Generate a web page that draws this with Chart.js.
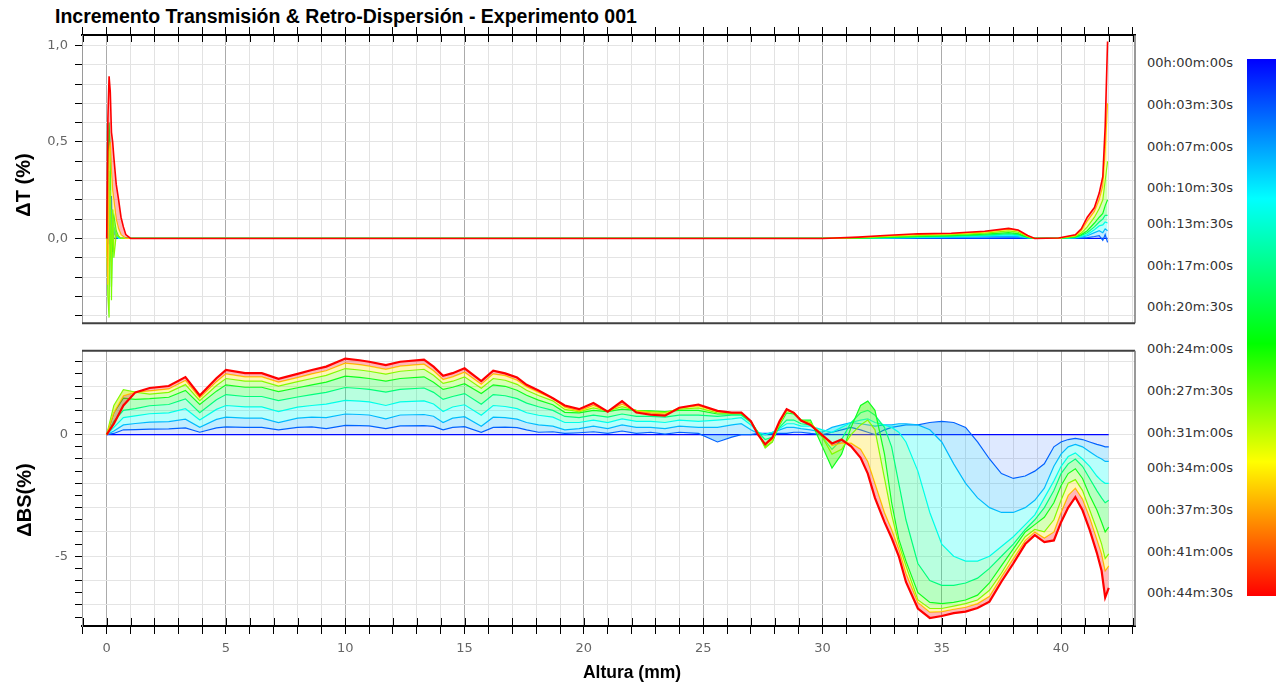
<!DOCTYPE html>
<html lang="es">
<head>
<meta charset="utf-8">
<title>Incremento Transmisión &amp; Retro-Dispersión</title>
<script src="https://cdn.jsdelivr.net/npm/chart.js@4.4.1/dist/chart.umd.min.js"></script>
<style>
html,body{margin:0;padding:0;background:#fff;}
body{width:1288px;height:690px;position:relative;overflow:hidden;}
canvas{position:absolute;left:0;}
#cTop{top:0;}
#cBot{top:336px;}
.txt{position:absolute;white-space:nowrap;color:#000;font-family:"Liberation Sans",Arial,sans-serif;font-weight:bold;}
#title{left:55px;top:6px;font-size:19.5px;line-height:20px;}
.ytitle{transform:translate(-50%,-50%) rotate(-90deg);font-size:20px;line-height:24px;}
#xtitle{transform:translate(-50%,-50%);font-size:17.5px;line-height:20px;left:632px;top:672px;}
#cbar{position:absolute;left:1247px;top:59px;width:29px;height:537px;}
.cbl{position:absolute;left:1147px;font:13px/16px "DejaVu Sans",Verdana,sans-serif;color:#333;white-space:nowrap;}
</style>
</head>
<body>
<div id="title" class="txt">Incremento Transmisión &amp; Retro-Dispersión - Experimento 001</div>
<canvas id="cTop" width="1140" height="338"></canvas>
<canvas id="cBot" width="1140" height="354"></canvas>
<div class="txt ytitle" style="left:23px;top:185px">ΔT (%)</div>
<div class="txt ytitle" style="left:24px;top:500px">ΔBS(%)</div>
<div id="xtitle" class="txt">Altura (mm)</div>
<div id="cbar"></div>
<div id="cblabels"></div>
<script>
// ---------- time / colour scale ----------
const TIMES = [0, 4, 8, 12, 17, 22, 28, 35, 44.5];          // minutes of each drawn scan
const T_END = 44.5;
const TIME_LABELS = ["00h:00m:00s","00h:03m:30s","00h:07m:00s","00h:10m:30s","00h:13m:30s","00h:17m:00s","00h:20m:30s","00h:24m:00s","00h:27m:30s","00h:31m:00s","00h:34m:00s","00h:37m:30s","00h:41m:00s","00h:44m:30s"];
const TIME_LABEL_MIN = [0, 3.5, 7, 10.5, 13.5, 17, 20.5, 24, 27.5, 31, 34, 37.5, 41, 44.5];

// ---------- axis ticks ----------
const X_TICKS = [-1,0,1,2,3,4,5,6,7,8,9,10,11,12,13,14,15,16,17,18,19,20,21,22,23,24,25,26,27,28,29,30,31,32,33,34,35,36,37,38,39,40,41,42,43];
const X_LABELS = [0,5,10,15,20,25,30,35,40];
const DT_TICKS = [-0.4,-0.3,-0.2,-0.1,0,0.1,0.2,0.3,0.4,0.5,0.6,0.7,0.8,0.9,1.0];
const DT_LABELS = [0, 0.5, 1.0];
const BS_TICKS = [-7.5,-7,-6.5,-6,-5.5,-5,-4.5,-4,-3.5,-3,-2.5,-2,-1.5,-1,-0.5,0,0.5,1,1.5,2,2.5,3];
const BS_LABELS = [-5, 0];

// ---------- ΔT (%) scans ----------
const X_DT_T00 = [0, 41.95];
const DT_T00 = [0, 0];
const X_DT = [0,0.05,0.1,0.15,0.2,0.25,0.3,0.4,0.5,0.6,0.7,0.8,1.0, 30.0,31.5,32.6,34.0,35.4,36.8,37.8,38.2,38.6,38.9,39.9,40.6,40.85,41.1,41.4,41.6,41.75,41.85,41.95];
const DT_T04 = [0,0.05,-0.03,0.12,0.22,-0.07,0.04,0.01,0,0,0,0,0, 0,0,0,0.001,0.001,0.002,0.003,0.003,0.001,0,0,0.001,0.002,0.004,0.01,0.015,-0.01,0.02,-0.02];
const DT_T08 = [0,0.1,0.06,-0.05,0.15,0.08,0.03,0.01,0,0,0,0,0, 0,0,0.002,0.004,0.006,0.009,0.012,0.01,0.003,0,0,0.003,0.007,0.014,0.03,0.04,0.03,0.05,0.04];
const DT_T12 = [0,0.12,0.2,0.05,-0.08,0.1,0.05,0.02,0,0,0,0,0, 0,0.001,0.003,0.006,0.009,0.013,0.018,0.015,0.004,0,0,0.004,0.01,0.02,0.045,0.065,0.07,0.085,0.08];
const DT_T17 = [0,0.2,0.35,0.1,-0.12,0.15,0.06,0.02,0.01,0,0,0,0, 0,0.001,0.004,0.008,0.012,0.017,0.024,0.02,0.005,0,0,0.006,0.015,0.03,0.06,0.085,0.1,0.12,0.12];
const DT_T22 = [0,0.3,0.6,0.45,-0.25,0.1,0.12,0.04,0.01,0,0,0,0, 0,0.002,0.006,0.011,0.015,0.022,0.03,0.025,0.006,0,0,0.008,0.02,0.04,0.08,0.11,0.13,0.17,0.2];
const DT_T28 = [0,-0.3,-0.41,0.25,-0.32,0.15,-0.1,0.02,0.01,0,0,0,0, 0,0.003,0.009,0.015,0.02,0.028,0.039,0.033,0.009,0,0.001,0.011,0.028,0.06,0.11,0.155,0.2,0.3,0.4];
const DT_T35 = [0,-0.24,0.45,0.5,0.35,0.25,0.2,0.1,0.05,0.02,0.01,0,0, 0,0.005,0.012,0.02,0.024,0.033,0.047,0.04,0.012,0,0.002,0.015,0.04,0.09,0.14,0.2,0.27,0.45,0.7];
const DT_T44 = [0,0.62,0.84,0.76,0.55,0.5,0.42,0.28,0.2,0.11,0.06,0.02,0, 0,0.007,0.015,0.024,0.027,0.037,0.052,0.044,0.015,0,0.002,0.019,0.05,0.11,0.16,0.235,0.32,0.58,1.02];

// ---------- ΔBS (%) scans ----------
const X_BS_T00 = [0, 42];
const BS_T00 = [0, 0];
const X_BS = [0,0.3,0.7,1.2,1.8,2.6,3.3,3.9,4.6,5.0,5.8,6.5,7.2,8.0,8.6,9.2,10.0,10.6,11.0,11.7,12.3,13.3,13.7,14.1,14.5,15.0,15.7,16.2,16.7,17.2,17.6,18.1,18.7,19.2,19.8,20.4,21.0,21.6,22.2,22.8,23.4,24.0,24.8,
  25.6,26.2,26.6,27.0,27.3,27.6,27.9,28.2,28.5,28.8,29.1,29.5,30.0,30.4,30.8,31.2,31.6,31.9,32.2,32.6,32.9,33.2,33.5,34.0,34.5,35.0,35.5,36.0,36.5,37.0,37.5,38.0,38.5,38.9,39.3,39.7,40.0,40.3,40.6,40.9,41.2,41.5,41.7,41.85,42.0];
const BS_T04 = [0,0.05,0.2,0.21,0.23,0.24,0.28,0.1,0.28,0.32,0.3,0.3,0.2,0.3,0.32,0.25,0.38,0.37,0.36,0.25,0.36,0.37,0.34,0.2,0.3,0.33,0.1,0.3,0.31,0.29,0.2,0.1,0.12,0.05,0.08,0.12,0.05,0.15,0.05,0.1,0.02,0.1,0.05,
  -0.3,-0.1,0,0,0.05,0.05,0.05,0.05,0.05,0.1,0.1,0.05,0,0.1,0.2,0.3,0.2,0.1,0,0.2,0.3,0.35,0.4,0.4,0.5,0.55,0.5,0.3,-0.3,-1.0,-1.6,-1.8,-1.7,-1.5,-1.2,-0.5,-0.3,-0.2,-0.15,-0.2,-0.3,-0.4,-0.45,-0.5,-0.5];
const BS_T08 = [0,0.15,0.4,0.46,0.52,0.54,0.64,0.3,0.63,0.72,0.68,0.68,0.5,0.68,0.72,0.7,0.85,0.83,0.81,0.65,0.81,0.83,0.76,0.5,0.68,0.74,0.35,0.72,0.7,0.64,0.5,0.4,0.35,0.2,0.25,0.35,0.25,0.4,0.3,0.3,0.25,0.35,0.3,
  0.3,0.4,0.45,0.2,0.05,0,0.1,0.2,0.3,0.3,0.25,0.2,0.1,0.3,0.4,0.5,0.45,0.4,0.35,0.4,0.4,0.45,0.45,0.4,0.2,-0.3,-1.2,-2.0,-2.6,-3.0,-3.2,-3.2,-3.0,-2.7,-2.2,-1.3,-0.8,-0.5,-0.4,-0.5,-0.7,-0.9,-1.0,-1.1,-1.1];
const BS_T12 = [0,0.3,0.7,0.77,0.86,0.9,1.07,0.6,1.04,1.2,1.14,1.14,0.95,1.13,1.2,1.26,1.41,1.38,1.35,1.2,1.35,1.39,1.26,0.95,1.14,1.23,0.8,1.2,1.16,1.07,0.9,0.8,0.72,0.5,0.5,0.6,0.5,0.65,0.55,0.55,0.5,0.6,0.55,
  0.6,0.65,0.7,0.4,0.1,0,0.1,0.25,0.45,0.45,0.35,0.35,0.2,0.1,0.3,0.5,0.6,0.65,0.5,0.4,0.3,0.1,-0.3,-1.5,-3.2,-4.5,-5.0,-5.2,-5.2,-5.0,-4.6,-4.2,-3.7,-3.3,-2.6,-1.9,-1.3,-0.9,-0.75,-1.0,-1.3,-1.7,-1.9,-2.0,-2.0];
const BS_T17 = [0,0.55,1.0,1.07,1.19,1.24,1.47,0.9,1.44,1.65,1.57,1.57,1.4,1.55,1.65,1.74,1.94,1.9,1.86,1.75,1.86,1.92,1.74,1.45,1.57,1.69,1.25,1.65,1.6,1.48,1.3,1.15,1.0,0.75,0.7,0.8,0.72,0.85,0.75,0.75,0.72,0.8,0.8,
  0.75,0.8,0.8,0.5,0.1,-0.2,-0.1,0.3,0.6,0.6,0.45,0.4,-0.1,-0.6,-0.2,0.5,0.9,1.0,0.8,0.3,-0.5,-2.0,-3.5,-5.3,-6.0,-6.2,-6.2,-6.1,-5.9,-5.5,-5.0,-4.5,-3.9,-3.5,-3.0,-2.3,-1.6,-1.2,-1.0,-1.3,-1.8,-2.3,-2.6,-2.8,-2.7];
const BS_T22 = [0,0.9,1.5,1.45,1.48,1.54,1.82,1.24,1.79,2.05,1.95,1.95,1.77,1.93,2.05,2.16,2.41,2.36,2.31,2.2,2.31,2.38,2.16,1.86,1.95,2.1,1.69,2.05,1.99,1.83,1.62,1.42,1.23,0.92,0.9,1.0,0.95,1.05,1.0,0.98,0.95,1.0,1.0,
  0.85,0.85,0.85,0.55,0.1,-0.5,-0.3,0.4,0.9,0.85,0.6,0.6,-0.5,-1.37,-0.8,0.3,1.2,1.38,1.0,-0.8,-2.8,-4.3,-5.2,-6.5,-6.9,-6.95,-6.9,-6.8,-6.6,-6.1,-5.4,-4.7,-4.0,-3.7,-3.4,-2.8,-2.1,-1.6,-1.4,-1.8,-2.5,-3.1,-3.6,-4.0,-3.8];
const BS_T28 = [0,1.2,1.85,1.75,1.67,1.74,2.06,1.4,2.02,2.31,2.2,2.2,2.0,2.18,2.31,2.44,2.72,2.66,2.61,2.49,2.61,2.69,2.44,2.11,2.2,2.38,1.91,2.31,2.24,2.07,1.83,1.61,1.39,1.04,0.95,1.1,0.98,1.15,1.0,0.95,0.92,1.05,1.1,
  0.9,0.88,0.88,0.55,0.05,-0.55,-0.3,0.5,1.0,0.9,0.6,0.5,-0.1,-0.8,-0.6,0,0.4,0.6,0.2,-1.8,-3.3,-4.5,-5.4,-6.8,-7.15,-7.15,-7.05,-6.95,-6.8,-6.4,-5.7,-4.9,-4.2,-3.9,-4.0,-3.5,-2.7,-2.0,-1.85,-2.3,-3.1,-3.9,-4.5,-5.1,-4.9];
const BS_T35 = [0,0.9,1.6,1.75,1.8,1.88,2.23,1.51,2.18,2.5,2.38,2.38,2.16,2.35,2.5,2.63,2.94,2.88,2.82,2.69,2.82,2.9,2.63,2.27,2.38,2.57,2.07,2.5,2.43,2.24,1.97,1.74,1.5,1.13,0.97,1.2,0.95,1.25,0.97,0.9,0.85,1.1,1.18,
  0.95,0.9,0.9,0.55,0.05,-0.42,-0.2,0.45,1.0,0.92,0.6,0.45,0,-0.45,-0.35,-0.35,-0.6,-1.1,-2.0,-3.2,-3.9,-4.7,-5.7,-6.9,-7.3,-7.28,-7.18,-7.1,-6.95,-6.65,-5.85,-5.1,-4.35,-4.0,-4.25,-4.0,-3.2,-2.5,-2.2,-2.65,-3.4,-4.3,-4.9,-5.6,-5.4];
const BS_T44 = [0,0.45,1.2,1.74,1.92,2.0,2.37,1.61,2.32,2.66,2.53,2.53,2.3,2.5,2.66,2.8,3.13,3.06,3.0,2.86,3.0,3.09,2.8,2.42,2.53,2.73,2.2,2.63,2.52,2.35,2.05,1.82,1.5,1.2,1.05,1.3,0.95,1.38,0.91,0.82,0.78,1.11,1.24,
  0.98,0.91,0.91,0.55,0,-0.4,-0.12,0.55,1.05,0.9,0.58,0.4,-0.03,-0.36,-0.2,-0.48,-0.95,-1.6,-2.6,-3.6,-4.25,-5.0,-6.06,-7.15,-7.54,-7.46,-7.34,-7.28,-7.13,-6.87,-6.05,-5.3,-4.5,-4.13,-4.42,-4.35,-3.6,-3.0,-2.57,-3.11,-3.92,-4.86,-5.6,-6.7,-6.3];

const DT_SERIES = [[X_DT_T00,DT_T00],[X_DT,DT_T04],[X_DT,DT_T08],[X_DT,DT_T12],[X_DT,DT_T17],[X_DT,DT_T22],[X_DT,DT_T28],[X_DT,DT_T35],[X_DT,DT_T44]];
const BS_SERIES = [[X_BS_T00,BS_T00],[X_BS,BS_T04],[X_BS,BS_T08],[X_BS,BS_T12],[X_BS,BS_T17],[X_BS,BS_T22],[X_BS,BS_T28],[X_BS,BS_T35],[X_BS,BS_T44]];

// ---------- styling ----------
const X_MIN = -1.035, X_MAX = 43.1;
const CSTOPS = [[0,[0,0,255]],[0.26,[0,255,255]],[0.53,[0,255,0]],[0.75,[255,255,0]],[1,[255,0,0]]];
const FILL_ALPHA = [0, 0.13, 0.24, 0.28, 0.28, 0.28, 0.28, 0.28, 0.28];   // band tint per scan
const FONT_TICK = {family:'"DejaVu Sans", Verdana, sans-serif', size:13};
const TICK_COLOR = '#666';

function timeColor(t, a) {
  const f = Math.min(1, Math.max(0, t / T_END));
  for (let i = 1; i < CSTOPS.length; i++) {
    if (f <= CSTOPS[i][0] + 1e-9) {
      const [f0, c0] = CSTOPS[i-1], [f1, c1] = CSTOPS[i];
      const k = (f - f0) / (f1 - f0);
      const c = c0.map((v, j) => Math.round(v + (c1[j] - v) * k));
      return `rgba(${c[0]},${c[1]},${c[2]},${a})`;
    }
  }
  return `rgba(255,0,0,${a})`;
}
const has = (arr, v) => arr.some(a => Math.abs(a - v) < 1e-6);

function buildSets(series, lastWidth) {
  const last = series.length - 1;
  return series.map(([xs, ys], i) => ({
    data: xs.map((x, j) => ({x: x, y: ys[j]})),
    borderColor: timeColor(TIMES[i], 1),
    backgroundColor: timeColor(TIMES[i], FILL_ALPHA[i]),
    borderWidth: i === last ? lastWidth : 1.2,
    pointRadius: 0,
    tension: 0,
    fill: i === 0 ? false : '-1',
    order: series.length - i
  }));
}

const frameLines = {
  id: 'frameLines',
  afterDatasetsDraw(chart, args, o) {
    const {ctx, chartArea: a} = chart;
    ctx.save();
    const seg = (s, x1, y1, x2, y2) => {
      if (!s) return;
      ctx.strokeStyle = s.color; ctx.lineWidth = s.width;
      ctx.beginPath(); ctx.moveTo(x1, y1); ctx.lineTo(x2, y2); ctx.stroke();
    };
    seg(o.top, a.left, a.top, a.right, a.top);
    seg(o.right, a.right, a.top, a.right, a.bottom);
    seg(o.bottom, a.left, a.bottom, a.right, a.bottom);
    if (o.inTicks) {
      const sx = chart.scales.x;
      const y0 = o.inTicks.edge === 'top' ? a.top : a.bottom;
      const dir = o.inTicks.edge === 'top' ? 1 : -1;
      ctx.strokeStyle = '#000'; ctx.lineWidth = 1;
      ctx.beginPath();
      sx.ticks.forEach(tk => {
        const px = Math.round(sx.getPixelForValue(tk.value)) + 0.5;
        ctx.moveTo(px, y0); ctx.lineTo(px, y0 + dir * o.inTicks.len);
      });
      ctx.stroke();
    }
    ctx.restore();
  }
};

const xGridColor = c => (c.tick && Math.abs(c.tick.value % 5) < 1e-6) ? '#ababab' : '#e2e2e2';

function xScale(position, height, showLabels) {
  return {
    type: 'linear', position: position, min: X_MIN, max: X_MAX,
    afterBuildTicks: s => { s.ticks = X_TICKS.map(v => ({value: v})); },
    afterFit: s => { s.height = height; },
    ticks: {display: showLabels, autoSkip: false, maxRotation: 0, padding: 7, color: TICK_COLOR, font: FONT_TICK,
            callback: v => has(X_LABELS, v) ? String(v) : ''},
    grid: {color: xGridColor, lineWidth: 1, tickLength: 8, tickColor: '#000', tickWidth: 1},
    border: {display: true, color: '#000', width: 2}
  };
}

Chart.defaults.animation = false;

new Chart(document.getElementById('cTop'), {
  type: 'line',
  data: {datasets: buildSets(DT_SERIES, 1.6)},
  plugins: [frameLines],
  options: {
    responsive: false, animation: false,
    layout: {padding: {left: 0, right: 5, top: 0, bottom: 8}},
    plugins: {legend: {display: false}, tooltip: {enabled: false},
      frameLines: {right: {color: '#777', width: 1.5}, bottom: {color: '#404040', width: 2}, inTicks: {edge: 'top', len: 7}}},
    scales: {
      x: xScale('top', 35, false),
      y: {
        min: -0.439, max: 1.054,
        afterBuildTicks: s => { s.ticks = DT_TICKS.map(v => ({value: v})); },
        afterFit: s => { s.width = 82; },
        ticks: {autoSkip: false, padding: 7, color: TICK_COLOR, font: FONT_TICK,
                callback: v => has(DT_LABELS, v) ? v.toFixed(1).replace('.', ',') : ''},
        grid: {color: '#e4e4e4', tickLength: 7, tickColor: '#000'},
        border: {display: true, color: '#9a9a9a', width: 1}
      }
    }
  }
});

new Chart(document.getElementById('cBot'), {
  type: 'line',
  data: {datasets: buildSets(BS_SERIES, 2.2)},
  plugins: [frameLines],
  options: {
    responsive: false, animation: false,
    layout: {padding: {left: 0, right: 5, top: 8, bottom: 0}},
    plugins: {legend: {display: false}, tooltip: {enabled: false},
      frameLines: {top: {color: '#404040', width: 2}, right: {color: '#777', width: 1.5}, inTicks: {edge: 'bottom', len: 8}}},
    scales: {
      x: xScale('bottom', 64, true),
      y: {
        min: -7.87, max: 3.45,
        afterBuildTicks: s => { s.ticks = BS_TICKS.map(v => ({value: v})); },
        afterFit: s => { s.width = 82; },
        ticks: {autoSkip: false, padding: 7, color: TICK_COLOR, font: FONT_TICK,
                callback: v => has(BS_LABELS, v) ? String(v) : ''},
        grid: {color: c => (c.tick && Math.abs(c.tick.value - Math.round(c.tick.value)) < 1e-6) ? '#e4e4e4' : 'rgba(0,0,0,0)',
               tickLength: 7, tickColor: '#000'},
        border: {display: true, color: '#9a9a9a', width: 1}
      }
    }
  }
});

// ---------- colour bar legend ----------
const CB_Y0 = 63.3, CB_Y1 = 593.3;
document.getElementById('cbar').style.background =
  'linear-gradient(to bottom,' + CSTOPS.map(([f, c]) => `rgb(${c.join(',')}) ${f * 100}%`).join(',') + ')';
const holder = document.getElementById('cblabels');
TIME_LABELS.forEach((s, i) => {
  const d = document.createElement('div');
  d.className = 'cbl';
  d.textContent = s;
  d.style.top = (CB_Y0 + TIME_LABEL_MIN[i] / T_END * (CB_Y1 - CB_Y0) - 8) + 'px';
  holder.appendChild(d);
});
</script>
</body>
</html>
